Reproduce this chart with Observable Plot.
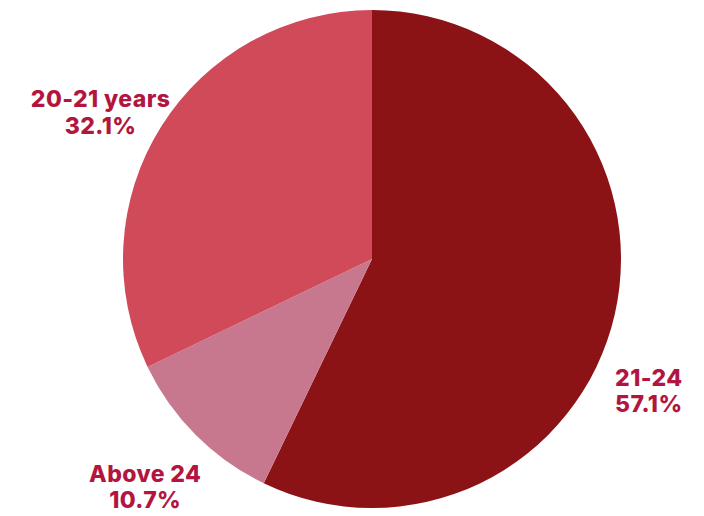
<!DOCTYPE html>
<html>
<head>
<meta charset="utf-8">
<script src="https://cdn.jsdelivr.net/npm/d3@7"></script>
<script src="https://cdn.jsdelivr.net/npm/@observablehq/plot@0.6"></script>
<style>
  html, body { margin: 0; padding: 0; background: #fff; }
  #chart { width: 704px; height: 516px; }
  #chart svg text { letter-spacing: 0.4px; }
</style>
</head>
<body>
<div id="chart"></div>
<script>
const categories = ["21-24", "Above 24", "20-21 years"];
const shares = [57.1, 10.7, 32.1];
const shareLabels = ["57.1%", "10.7%", "32.1%"];
const sliceColors = ["#8B1316", "#C7788F", "#D14A5A"];

const W = 704, H = 516;
const cx = 372, cy = 259, R = 249;
const fontSize = 23;
const fontFamily = 'Inter, "Open Sans", sans-serif';
const font = `800 ${fontSize}px ${fontFamily}`;
const labelColor = "#B2163F";

const data = categories.map((c, i) => ({ cat: c, value: shares[i], label: shareLabels[i], color: sliceColors[i] }));
const arcs = d3.pie().sort(null).value(d => d.value)(data);

// measure label widths
const ctx = document.createElement("canvas").getContext("2d");
ctx.font = font;
const labelR = 1.29;
const labels = arcs.map(a => {
  const mid = (a.startAngle + a.endAngle) / 2;
  const hw = Math.max(ctx.measureText(a.data.cat).width, ctx.measureText(a.data.label).width) / 2 + 3;
  let x = Math.sin(mid) * labelR;
  let y = -Math.cos(mid) * labelR;
  const minX = (12 + hw - cx) / R, maxX = (W - 20 - hw - cx) / R;
  if (x < minX || x > maxX) {
    x = Math.max(minX, Math.min(maxX, x));
    const dy = Math.sqrt(Math.max(0, labelR * labelR - x * x));
    y = Math.sign(y || 1) * dy * 0.8;
  }
  return { x, y, text: a.data.cat + "\n" + a.data.label, anchor: y < 0 ? "top" : "middle" };
});

function pieMark(index, scales, values, dimensions) {
  const x0 = scales.x(0), y0 = scales.y(0);
  const r = scales.x(1) - scales.x(0);
  const g = d3.create("svg:g").attr("transform", `translate(${x0},${y0})`);
  const arcGen = d3.arc().innerRadius(0).outerRadius(r);
  g.selectAll("path").data(arcs).join("path")
    .attr("d", arcGen)
    .attr("fill", d => d.data.color)
    .attr("stroke", "none");
  return g.node();
}

const textOpts = {
  x: "x", y: "y", text: "text",
  fill: labelColor,
  fontSize: fontSize,
  fontWeight: 800,
  lineHeight: 1.15,
  textAnchor: "middle"
};

const chart = Plot.plot({
  width: W,
  height: H,
  margin: 0,
  x: { domain: [-cx / R, (W - cx) / R], range: [0, W], axis: null },
  y: { domain: [-cy / R, (H - cy) / R], range: [0, H], axis: null },
  style: { background: "#fff", fontFamily: fontFamily },
  marks: [
    pieMark,
    Plot.text(labels.filter(d => d.anchor === "top"), { ...textOpts, lineAnchor: "top" }),
    Plot.text(labels.filter(d => d.anchor === "middle"), { ...textOpts, lineAnchor: "middle" })
  ]
});
document.getElementById("chart").appendChild(chart);
</script>
</body>
</html>
